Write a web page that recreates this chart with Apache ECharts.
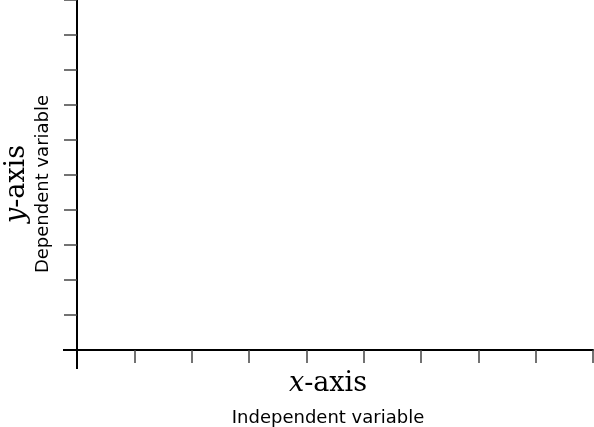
<!DOCTYPE html>
<html>
<head>
<meta charset="utf-8">
<script src="https://cdn.jsdelivr.net/npm/echarts@6/dist/echarts.min.js"></script>
<style>html,body{margin:0;padding:0;background:#fff;}#c{width:594px;height:427px;}</style>
</head>
<body>
<div id="c"></div>
<script>
// Empty plot: only axes, ticks and axis titles
const xRange = [0, 9];
const yRange = [0, 10];
const xTickStep = 1;
const yTickStep = 1;
const originTick = [0];
const xTitle = ['x', '-axis'];
const xSubtitle = 'Independent variable';
const yTitle = ['y', '-axis'];
const ySubtitle = 'Dependent variable';

const serif = 'DejaVu Serif';
const sans = 'DejaVu Sans';
function makeRich(subLineHeight) {
  return {
    i: { fontFamily: serif, fontStyle: 'italic', fontSize: 27, color: '#000', lineHeight: 32 },
    r: { fontFamily: serif, fontSize: 27, color: '#000', lineHeight: 32 },
    s: { fontFamily: sans, fontSize: 18, color: '#000', lineHeight: subLineHeight }
  };
}

const chart = echarts.init(document.getElementById('c'), null, { renderer: 'canvas' });
chart.setOption({
  animation: false,
  backgroundColor: '#fff',
  grid: { left: 77, right: 1, top: 0, bottom: 77, containLabel: false, outerBoundsMode: 'none' },
  xAxis: [{
    type: 'value', min: xRange[0], max: xRange[1], interval: xTickStep,
    axisLine: { show: true, onZero: false, lineStyle: { color: '#000', width: 2 } },
    axisTick: { show: true, inside: false, length: 13, lineStyle: { color: '#444', width: 1.5 } },
    axisLabel: { show: false },
    splitLine: { show: false },
    name: '{i|' + xTitle[0] + '}{r|' + xTitle[1] + '}\n{s|' + xSubtitle + '}',
    nameLocation: 'middle',
    nameGap: 18,
    nameTextStyle: { rich: makeRich(36), align: 'center', verticalAlign: 'top', padding: [0, 14, 0, 0] }
  }, {
    type: 'value', min: xRange[0], max: xRange[1], interval: xTickStep, position: 'bottom',
    axisLine: { show: false },
    axisTick: { show: true, customValues: originTick, length: 19, lineStyle: { color: '#000', width: 2 } },
    axisLabel: { show: false },
    splitLine: { show: false }
  }],
  yAxis: [{
    type: 'value', min: yRange[0], max: yRange[1], interval: yTickStep,
    axisLine: { show: true, onZero: false, lineStyle: { color: '#000', width: 2 } },
    axisTick: { show: true, inside: false, length: 13, lineStyle: { color: '#444', width: 1.5 } },
    axisLabel: { show: false },
    splitLine: { show: false },
    name: '{i|' + yTitle[0] + '}{r|' + yTitle[1] + '}\n{s|' + ySubtitle + '}',
    nameLocation: 'middle',
    nameRotate: 90,
    nameGap: 24,
    nameTextStyle: { rich: makeRich(20), align: 'center', padding: [0, 18, 0, 0] }
  }, {
    type: 'value', min: yRange[0], max: yRange[1], interval: yTickStep, position: 'left', offset: 0,
    axisLine: { show: false },
    axisTick: { show: true, customValues: originTick, length: 14, lineStyle: { color: '#000', width: 2 } },
    axisLabel: { show: false },
    splitLine: { show: false }
  }],
  series: [{ type: 'line', data: [], xAxisIndex: 0, yAxisIndex: 0 }]
});
</script>
</body>
</html>
